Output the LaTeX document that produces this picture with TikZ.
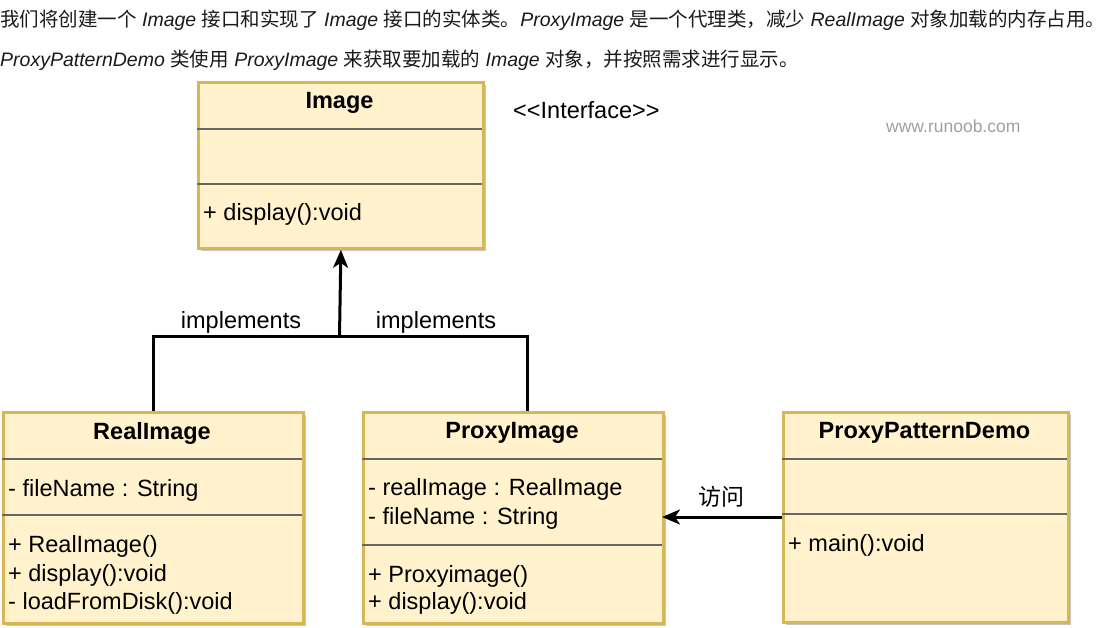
\documentclass[tikz,border=0pt]{standalone}
\usepackage{fontspec}
\setmainfont{Liberation Sans}
\newfontfamily\cjk{Noto Sans CJK SC}
\usetikzlibrary{arrows.meta,shadows,calc}
\definecolor{boxfill}{HTML}{FFF2CC}
\definecolor{boxline}{HTML}{D6B656}
\definecolor{divline}{HTML}{666666}
\definecolor{toptext}{HTML}{1A1A1A}
\definecolor{wmark}{HTML}{A0A0A0}
\begin{document}
\begin{tikzpicture}[x=1pt,y=-1pt,
  umlbox/.style={draw=boxline, fill=boxfill, line width=2.8pt, inner sep=0pt, anchor=north west,
    drop shadow={shadow xshift=3pt, shadow yshift=-3pt, fill=black!22, opacity=1}},
  divider/.style={draw=divline, line width=2pt},
  umltitle/.style={font=\fontsize{23.5}{28}\selectfont\bfseries, inner sep=0pt, anchor=base},
  member/.style={font=\fontsize{23.5}{28}\selectfont, inner sep=0pt, anchor=base west},
  lbl/.style={font=\fontsize{23.5}{28}\selectfont, inner sep=0pt, anchor=base},
  intro/.style={font=\fontsize{19.5}{24}\selectfont, text=toptext, inner sep=0pt, anchor=west},
  conn/.style={line width=3pt, draw=black},
  tip/.style={-{Stealth[length=18pt,width=15pt,inset=5pt]}}
]
\useasboundingbox[fill=white] (0,0) rectangle (1113,627);

% intro text
\node[intro] (t1) at (0,20) {{\cjk 我们将创建一个} \textit{Image} {\cjk 接口和实现了} \textit{Image} {\cjk 接口的实体类。}\textit{ProxyImage} {\cjk 是一个代理类，减少} \textit{RealImage} {\cjk 对象加载的内存占用。}};
\node[intro] (t2) at (0,60) {\textit{ProxyPatternDemo} {\cjk 类使用} \textit{ProxyImage} {\cjk 来获取要加载的} \textit{Image} {\cjk 对象，并按照需求进行显示。}};

% Image
\node[umlbox, minimum width=285pt, minimum height=166pt] (img) at (197,81) {};
\draw[divider] (197,129) -- (482,129);
\draw[divider] (197,184) -- (482,184);
\node[umltitle] (imgt) at (339.5,108) {Image};
\node[member] (imgm1) at (203,220) {+ display():void};
\node[lbl, anchor=base west] (iface) at (513,118) {<{}<Interface>{}>};
\node[font=\fontsize{17.5}{20}\selectfont, text=wmark, inner sep=0pt, anchor=base west] (wm) at (886,132) {www.runoob.com};

% RealImage
\node[umlbox, minimum width=300pt, minimum height=211pt] (ri) at (2,411) {};
\draw[divider] (2,459) -- (302,459);
\draw[divider] (2,515) -- (302,515);
\node[umltitle] (rit) at (152,439) {RealImage};
\node[member] (ria1) at (8,496) {- fileName : String};
\node[member] (rim1) at (8,552) {+ RealImage()};
\node[member] (rim2) at (8,581) {+ display():void};
\node[member] (rim3) at (8,609) {- loadFromDisk():void};

% ProxyImage
\node[umlbox, minimum width=300pt, minimum height=211pt] (pi) at (362,411) {};
\draw[divider] (362,459) -- (662,459);
\draw[divider] (362,545) -- (662,545);
\node[umltitle] (pit) at (512,438) {ProxyImage};
\node[member] (pia1) at (368,495) {- realImage : RealImage};
\node[member] (pia2) at (368,524) {- fileName : String};
\node[member] (pim1) at (368,582) {+ Proxyimage()};
\node[member] (pim2) at (368,609) {+ display():void};

% ProxyPatternDemo
\node[umlbox, minimum width=285pt, minimum height=210pt] (pd) at (782,411) {};
\draw[divider] (782,459) -- (1067,459);
\draw[divider] (782,514) -- (1067,514);
\node[umltitle] (pdt) at (924.5,438) {ProxyPatternDemo};
\node[member] (pdm1) at (788,551) {+ main():void};

% connectors
\coordinate (join) at (339.5,336);
\coordinate (pin) at (527,411);
\coordinate (pdin) at (782,517);
\coordinate (piout) at (662,517);
\draw[conn] (ri.north) |- (join);
\draw[conn] (pin) |- (join);
\draw[conn, tip] (join) -- (img.south);
\node[lbl] (impl1) at (241,328) {implements};
\node[lbl] (impl2) at (436,328) {implements};
\draw[conn, tip] (pdin) -- (piout);
\node[font=\fontsize{23}{28}\selectfont\cjk, inner sep=0pt] (visit) at (721,497) {访问};
\end{tikzpicture}
\end{document}
